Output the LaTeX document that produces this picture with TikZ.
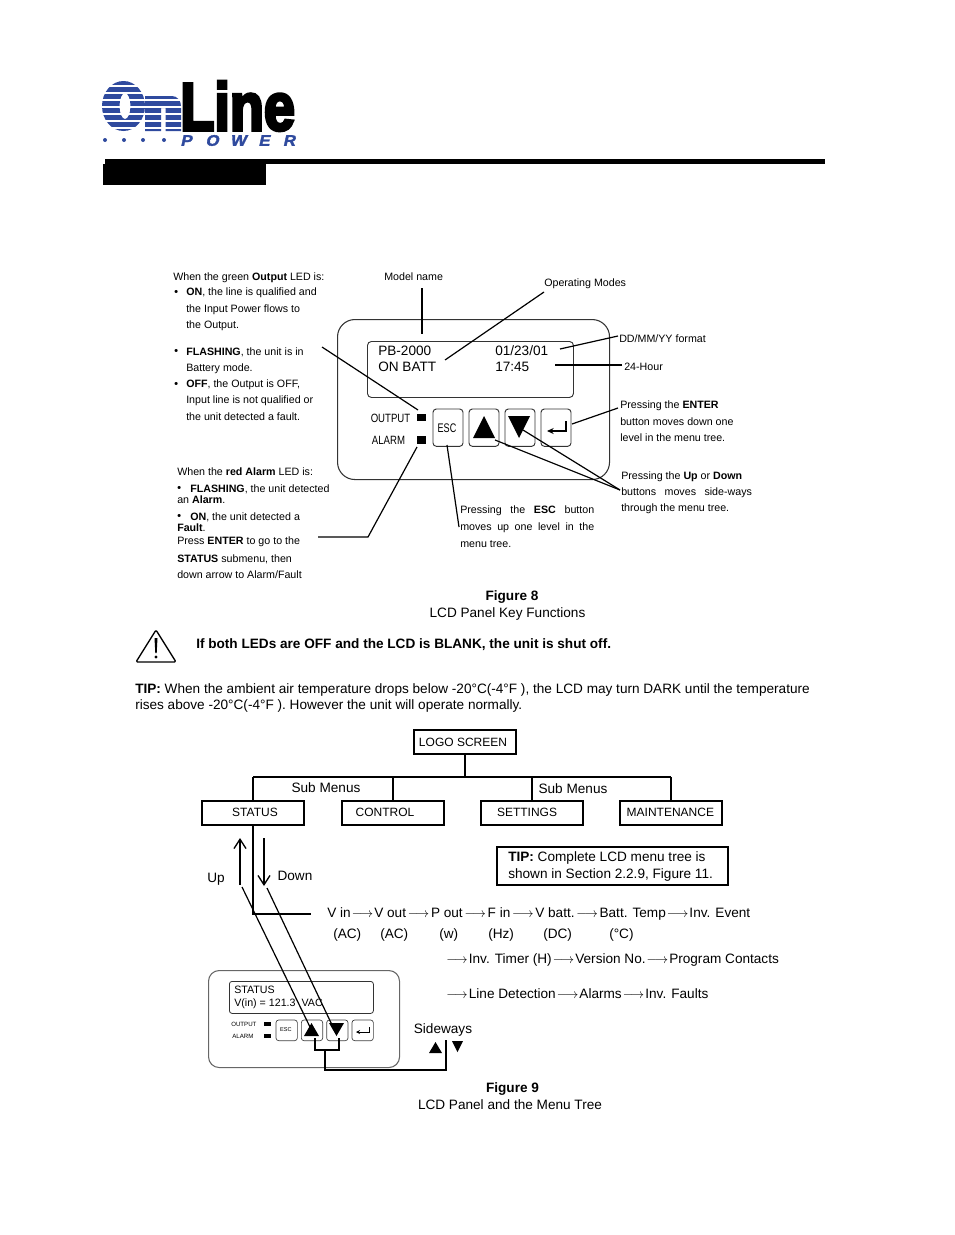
\documentclass[tikz,border=0pt]{standalone}
\usepackage{fontspec}
\setmainfont{Liberation Sans}
\newfontfamily\logofont[FakeBold=5]{Liberation Sans Bold}
\newfontfamily\powerfont[FakeBold=2,FakeSlant=0.2]{Liberation Sans Bold}
\usetikzlibrary{arrows.meta,positioning}
\definecolor{logoblue}{HTML}{2F4A9E}
\newcommand{\nextitem}{\kern0.8pt$\longrightarrow$\kern0.8pt}
\newcommand{\nextwide}{\kern1.3pt$\longrightarrow$\kern1.3pt}
\newcommand{\nudged}[2]{\makebox[0pt]{\hspace{#1}\raisebox{1.1pt}{#2}}}

\begin{document}
\begin{tikzpicture}[
    x=0.75pt, y=-0.75pt,
    note/.style={anchor=west, inner sep=0pt, yshift=-0.7pt, font=\fontsize{8}{9}\selectfont},
    plain/.style={anchor=west, inner sep=0pt, yshift=-1.1pt, font=\fontsize{10.2}{12}\selectfont},
    caption/.style={inner sep=0pt, yshift=-1.1pt, font=\fontsize{10.2}{12}\selectfont},
    tiny/.style={anchor=west, inner sep=0pt, font=\fontsize{6.7}{8}\selectfont},
    letter/.style={inner sep=0pt, text=logoblue, font=\fontsize{11.5}{12}\powerfont},
    leader/.style={draw=black, line width=0.9pt},
    panel/.style={rectangle, draw=black!80, line width=0.8pt, rounded corners=13pt},
    screen/.style={rectangle, draw=black!80, line width=0.7pt, rounded corners=3pt},
    keybox/.style={rectangle, draw=black!80, line width=0.7pt, rounded corners=2.5pt, minimum width=22.5pt, minimum height=28pt, inner sep=0pt, outer sep=0pt},
    smallkey/.style={rectangle, draw=black!75, line width=0.5pt, rounded corners=2pt, minimum width=16pt, minimum height=15.5pt, inner sep=0pt, outer sep=0pt},
    menubox/.style={rectangle, draw=black, line width=1.4pt, minimum width=76.5pt, minimum height=18pt, inner sep=0pt, outer sep=0pt, font=\fontsize{9}{11}\selectfont},
    branch/.style={draw=black, line width=1.4pt},
    arrow/.style={-{Straight Barb[length=7pt,width=9pt]}, line width=1pt}
]
\useasboundingbox (0,0) rectangle (954,1235);

% Logo
\begin{scope}
  \clip (100,80) rectangle (182,134);
  \fill [logoblue, even odd rule] (123.5,106) ellipse [x radius=21.5, y radius=25] (125,106) ellipse [x radius=5.5, y radius=13];
  \fill [logoblue] (145,96) -- (172,96) to[out=0,in=90] (181,106) -- (181,131) -- (165.5,131) -- (165.5,108) -- (161,108) -- (161,131) -- (145,131) -- cycle;
  \foreach \yy in {86,93,100,107,114,121,128} \draw [white, line width=1.3pt] (100,\yy) -- (182,\yy);
\end{scope}
\node (logoline) [inner sep=0pt, anchor=south west] at (180,131) {\resizebox{86pt}{36.5pt}{\logofont Line}};
\foreach \xx in {105,124,143,164} \fill [logoblue] (\xx,140) circle [radius=2];
\node (logop) [letter] at (186,140.5) {\scalebox{1.1}[1]{P}};
\node (logoo) [letter] at (212,140.5) {\scalebox{1.1}[1]{O}};
\node (logow) [letter] at (238,140.5) {\scalebox{1.1}[1]{W}};
\node (logoe) [letter] at (264,140.5) {\scalebox{1.1}[1]{E}};
\node (logor) [letter] at (289,140.5) {\scalebox{1.1}[1]{R}};
\fill (105,159) rectangle (825,164);
\fill (103,164) rectangle (266,185);

% Front panel
\node (lcdpanel) [panel, minimum width=204pt, minimum height=120pt, anchor=north west] at (337,319) {};
\node (lcdscreen) [screen, minimum width=154.5pt, minimum height=42pt, anchor=north west] at (367,341) {};
\node (esc) [keybox, anchor=north west] at (433,409) {};
\node (upkey) [keybox, right=4.5pt of esc] {};
\node (downkey) [keybox, right=4.5pt of upkey] {};
\node (enterkey) [keybox, right=4.5pt of downkey] {};
\node (esctext) [font=\fontsize{8.5}{10}\selectfont, inner sep=0pt] at (447,428) {\scalebox{.8}[1.1]{ESC}};
\fill (473,438) -- (495,438) -- (484,416) -- cycle;
\fill (508,416) -- (530,416) -- (519,438) -- cycle;
\draw [line width=0.8pt, -{Stealth[length=5pt,width=4.5pt]}] (566,421) -- (566,431) -- (547,431);
\fill (417,414) rectangle (426,421);
\fill (417,436) rectangle (426,444);
\node (outputled) [inner sep=0pt, font=\fontsize{9}{11}\selectfont] at (390.5,418) {\scalebox{.8}[1]{OUTPUT}};
\node (alarmled) [inner sep=0pt, font=\fontsize{9}{11}\selectfont] at (388.5,440) {\scalebox{.8}[1]{ALARM}};
\node (model) [plain] at (378,349.5) {PB-2000};
\node (mode) [plain] at (378,365.5) {ON BATT};
\node (date) [plain] at (495,349.5) {01/23/01};
\node (clock) [plain] at (495,365.5) {17:45};

% Notes round the panel
\node (greena) [note] at (173,277) {When the green \textbf{Output} LED is:};
\node (bulleta) [note] at (174,292) {\textbf{•}};
\node (greenb) [note] at (186,292) {\textbf{ON}, the line is qualified and};
\node (greenc) [note] at (186,309) {the Input Power flows to};
\node (greend) [note] at (186,325) {the Output.};
\node (bulletb) [note] at (174,351) {\textbf{•}};
\node (greene) [note] at (186,351) {\textbf{FLASHING}, the unit is in};
\node (greenf) [note] at (186,368) {Battery mode.};
\node (bulletc) [note] at (174,384) {\textbf{•}};
\node (greeng) [note] at (186,384) {\textbf{OFF}, the Output is OFF,};
\node (greenh) [note] at (186,400) {Input line is not qualified or};
\node (greeni) [note] at (186,416) {the unit detected a fault.};
\node (reda) [note] at (177,471) {When the \textbf{red Alarm} LED is:};
\node (bulletd) [note] at (177,488) {\textbf{•}};
\node (redb) [note] at (190,488) {\textbf{FLASHING}, the unit detected};
\node (redc) [note] at (177,499) {an \textbf{Alarm}.};
\node (bullete) [note] at (177,516) {\textbf{•}};
\node (redd) [note] at (190,516) {\textbf{ON}, the unit detected a};
\node (rede) [note] at (177,527) {\textbf{Fault}.};
\node (redf) [note] at (177,541) {Press \textbf{ENTER} to go to the};
\node (redg) [note] at (177,558) {\textbf{STATUS} submenu, then};
\node (redh) [note] at (177,574) {down arrow to Alarm/Fault};
\node (namelabel) [note] at (384,276) {Model name};
\node (modelabel) [note] at (544,283) {Operating Modes};
\node (datelabel) [note] at (619,338) {DD/MM/YY format};
\node (hourlabel) [note] at (624,366) {24-Hour};
\node (entera) [note] at (620,405) {Pressing the \textbf{ENTER}};
\node (enterb) [note] at (620,421) {button moves down one};
\node (enterc) [note] at (620,437) {level in the menu tree.};
\node (sidea) [note] at (621,476) {Pressing the \textbf{Up} or \textbf{Down}};
\node (sideb) [note] at (621,492) {\makebox[98pt][s]{buttons moves side-ways}};
\node (sidec) [note] at (621,508) {through the menu tree.};
\node (esca) [note] at (460,510) {\makebox[100.5pt][s]{Pressing the \textbf{ESC} button}};
\node (escb) [note] at (460,527) {\makebox[100.5pt][s]{moves up one level in the}};
\node (escc) [note] at (460,543) {menu tree.};

% Leaders
\coordinate (namefrom) at (422,288);
\coordinate (nameto) at (422,334);
\coordinate (modefrom) at (544,292);
\coordinate (modeto) at (445,360);
\coordinate (ledfrom) at (322,347);
\coordinate (ledto) at (418,410);
\coordinate (datefrom) at (618,336);
\coordinate (dateto) at (560,349);
\coordinate (hourfrom) at (622,365);
\coordinate (hourto) at (555,365);
\coordinate (enterfrom) at (618,408);
\coordinate (enterto) at (572,424);
\coordinate (sidefrom) at (620,490);
\coordinate (upto) at (495,440);
\coordinate (downto) at (523,430);
\coordinate (escfrom) at (459,527);
\coordinate (escto) at (447,445);
\coordinate (alarmfrom) at (318,537);
\coordinate (alarmbend) at (368,537);
\coordinate (alarmto) at (417,447);
\draw [leader] (namefrom) -- (nameto);
\draw [leader] (modefrom) -- (modeto);
\draw [leader] (ledfrom) -- (ledto);
\draw [leader] (datefrom) -- (dateto);
\draw [leader] (hourfrom) -- (hourto);
\draw [leader] (enterfrom) -- (enterto);
\draw [leader] (sidefrom) -- (upto);
\draw [leader] (sidefrom) -- (downto);
\draw [leader] (escfrom) -- (escto);
\draw [leader] (alarmfrom) -- (alarmbend) -- (alarmto);

% Captions and warning
\node (figa) [caption] at (512,596) {\textbf{Figure 8}};
\node (figb) [caption] at (507.5,613) {LCD Panel Key Functions};
\draw [line width=1pt, line join=round, rounded corners=1pt] (156,630) -- (176,662) -- (136,662) -- cycle;
\fill (154.5,638) -- (157.5,638) -- (156.7,653) -- (155.3,653) -- cycle;
\fill (156,657) circle [radius=1.6];
\node (warning) [plain] at (196,643) {\textbf{If both LEDs are OFF and the LCD is BLANK, the unit is shut off.}};
\node (tipa) [plain] at (135,689) {\textbf{TIP:} When the ambient air temperature drops below -20°C(-4°F ), the LCD may turn DARK until the temperature};
\node (tipb) [plain] at (135,705) {rises above -20°C(-4°F ). However the unit will operate normally.};

% Menu tree
\node (logoscreen) [menubox, anchor=north west] at (414,730) {\makebox[0pt]{\hspace{-3pt}LOGO SCREEN}};
\node (status) [menubox, anchor=north west] at (202,801) {\nudged{3pt}{STATUS}};
\node (control) [menubox, right=28.5pt of status] {\nudged{-12pt}{CONTROL}};
\node (settings) [menubox, right=27.75pt of control] {\nudged{-7.5pt}{SETTINGS}};
\node (maintenance) [menubox, right=27.75pt of settings] {\nudged{-1pt}{MAINTENANCE}};
\coordinate (treetop) at (465,777);
\coordinate (treeleft) at (253,777);
\coordinate (treeright) at (671,777);
\draw [branch] (logoscreen) -- (treetop);
\draw [branch] (treeleft) -- (treeright);
\draw [branch] (treeleft) -- (treeleft |- status.north);
\draw [branch] (393,777) -- (393,801);
\draw [branch] (532,777) -- (532,801);
\draw [branch] (treeright) -- (treeright |- maintenance.north);
\node (submenua) [caption] at (326,786) {Sub Menus};
\node (submenub) [caption] at (573,787) {Sub Menus};
\node (tipbox) [rectangle, draw=black, line width=1.4pt, minimum width=173.25pt, minimum height=28.5pt, inner sep=0pt, outer sep=0pt, anchor=north west] at (497,847) {};
\node (tipboxa) [plain] at (508,856.5) {\textbf{TIP:} Complete LCD menu tree is};
\node (tipboxb) [plain] at (508,873.5) {shown in Section 2.2.9, Figure 11.};

% Up and down
\coordinate (upfrom) at (240,885);
\coordinate (uptip) at (240,838);
\coordinate (downfrom) at (264,838);
\coordinate (downtip) at (264,886);
\coordinate (trunkbend) at (253,914);
\coordinate (trunkend) at (311,914);
\draw [arrow] (upfrom) -- (uptip);
\draw [arrow] (downfrom) -- (downtip);
\draw [branch] (status.south -| trunkbend) -- (trunkbend) -- (trunkend);
\node (uplabel) [caption] at (216,878) {Up};
\node (downlabel) [caption] at (295,874.5) {Down};

% Item lists
\node (itemsa) [plain] at (327,913) {V in\nextitem V out\nextwide P out\nextwide F in\nextwide V batt.\nextwide Batt. Temp\nextitem Inv. Event};
\node (unita) [plain] at (333,934) {(AC)};
\node (unitb) [plain] at (380,934) {(AC)};
\node (unitc) [plain] at (439,934) {(w)};
\node (unitd) [plain] at (488,934) {(Hz)};
\node (unite) [plain] at (543,934) {(DC)};
\node (unitf) [plain] at (609,934) {(°C)};
\node (itemsb) [plain] at (445,959) {\nextitem Inv. Timer (H)\nextitem Version No.\nextitem Program Contacts};
\node (itemsc) [plain] at (445,992) {\nextitem Line Detection\nextitem Alarms\nextitem Inv. Faults};

% Small panel
\node (smallpanel) [panel, draw=black!60, rounded corners=8pt, minimum width=143.25pt, minimum height=72.75pt, anchor=north west] at (208,970) {};
\node (smallscreen) [screen, line width=0.6pt, rounded corners=2pt, minimum width=108pt, minimum height=24pt, anchor=north west] at (229,981) {};
\node (smallstatus) [tiny, font=\fontsize{8}{9}\selectfont] at (234,990) {STATUS};
\node (smallvalue) [tiny, font=\fontsize{8}{9}\selectfont] at (234,1004) {V(in) = 121.3\ \ VAC};
\node (smallesc) [smallkey, anchor=north west] at (276,1020) {};
\node (smallup) [smallkey, right=3pt of smallesc] {};
\node (smalldown) [smallkey, right=3pt of smallup] {};
\node (smallenter) [smallkey, right=3pt of smalldown] {};
\node (smallesctext) [inner sep=0pt, font=\fontsize{4.2}{5}\selectfont] at (286,1030) {ESC};
\fill (304,1036) -- (319,1036) -- (311.5,1023) -- cycle;
\fill (329,1023) -- (344,1023) -- (336.5,1036) -- cycle;
\draw [line width=0.6pt, -{Stealth[length=3pt,width=3pt]}] (369,1027) -- (369,1032) -- (356,1032);
\node (smalloutput) [tiny, font=\fontsize{4.6}{5}\selectfont] at (231,1024) {OUTPUT};
\node (smallalarm) [tiny, font=\fontsize{4.6}{5}\selectfont] at (232,1036) {ALARM};
\fill (264,1022) rectangle (271,1026);
\fill (264,1034) rectangle (271,1038);

% Key leaders
\coordinate (upbend) at (242,887);
\coordinate (upkeytop) at (310,1027);
\coordinate (downbend) at (267,888);
\coordinate (downkeytop) at (333,1027);
\draw [leader] (upbend) -- (upkeytop);
\draw [leader] (downbend) -- (downkeytop);

% Sideways bracket
\coordinate (bracketa) at (315,1038);
\coordinate (bracketb) at (315,1050);
\coordinate (bracketc) at (339,1050);
\coordinate (bracketd) at (339,1038);
\coordinate (brackete) at (325,1050);
\coordinate (bracketf) at (325,1070);
\coordinate (bracketg) at (446,1070);
\coordinate (bracketh) at (446,1040);
\draw [branch] (bracketa) -- (bracketb) -- (bracketc) -- (bracketd);
\draw [branch] (brackete) -- (bracketf) -- (bracketg) -- (bracketh);
\node (sideways) [caption] at (443,1029) {Sideways};
\fill (429,1053) -- (442,1053) -- (435.5,1042) -- cycle;
\fill (452,1041) -- (463,1041) -- (457.5,1052) -- cycle;
\node (figc) [caption] at (512.5,1088) {\textbf{Figure 9}};
\node (figd) [caption] at (510,1103.5) {LCD Panel and the Menu Tree};

\end{tikzpicture}
\end{document}
